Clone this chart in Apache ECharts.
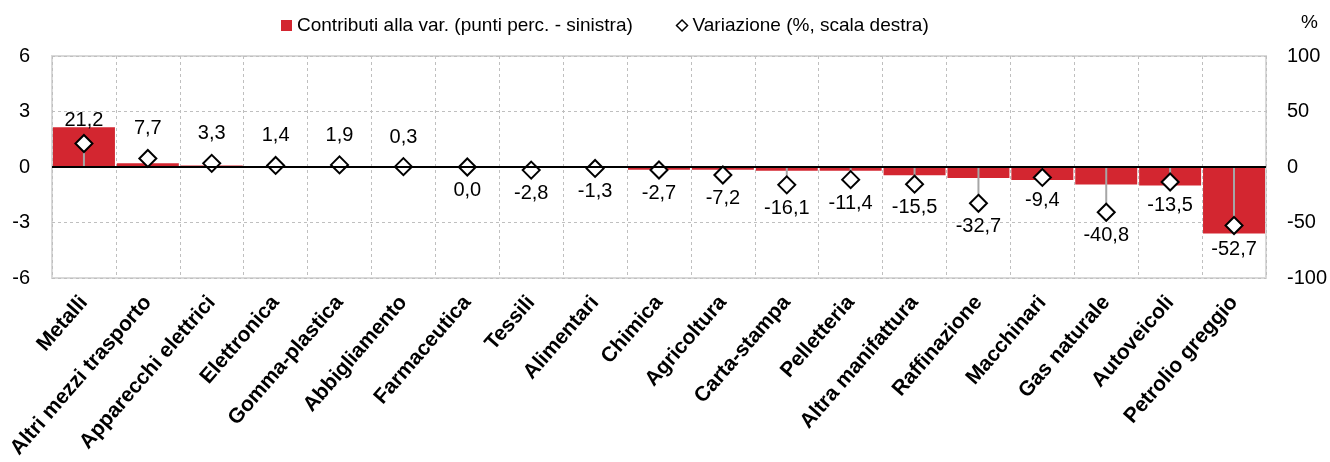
<!DOCTYPE html>
<html>
<head>
<meta charset="utf-8">
<script src="https://cdn.jsdelivr.net/npm/echarts@6/dist/echarts.min.js"></script>
<style>
  html, body { margin: 0; padding: 0; background: #fff; }
  #chart { width: 1330px; height: 462px; }
</style>
</head>
<body>
<div id="chart"></div>
<script>
// categories and values
const categories = ['Metalli', 'Altri mezzi trasporto', 'Apparecchi elettrici', 'Elettronica', 'Gomma-plastica',
  'Abbigliamento', 'Farmaceutica', 'Tessili', 'Alimentari', 'Chimica', 'Agricoltura', 'Carta-stampa',
  'Pelletteria', 'Altra manifattura', 'Raffinazione', 'Macchinari', 'Gas naturale', 'Autoveicoli', 'Petrolio greggio'];
// contributions, percentage points (left axis)
const contributi = [2.15, 0.2, 0.08, 0.02, 0.02, 0.0, 0.0, -0.01, 0.0, -0.15, -0.15, -0.2, -0.2, -0.45, -0.6, -0.7, -0.95, -1.0, -3.6];
// change, % (right axis)
const variazione = [21.2, 7.7, 3.3, 1.4, 1.9, 0.3, 0.0, -2.8, -1.3, -2.7, -7.2, -16.1, -11.4, -15.5, -32.7, -9.4, -40.8, -13.5, -52.7];
const leftTicks = [-6, -3, 0, 3, 6];
const rightTicks = [-100, -50, 0, 50, 100];

const RED = '#d32630';
const FONT = "'Liberation Sans', Arial, sans-serif";
const fmt = (v) => v.toFixed(1).replace('.', ',');

const chart = echarts.init(document.getElementById('chart'), null, { renderer: 'canvas' });

chart.setOption({
  animation: false,
  textStyle: { fontFamily: FONT, color: '#000' },
  legend: {
    top: 11,
    left: 276,
    itemGap: 43,
    itemWidth: 11,
    itemHeight: 11,
    textStyle: { fontFamily: FONT, fontSize: 19, color: '#000' },
    data: [
      { name: 'Contributi alla var. (punti perc. - sinistra)', icon: 'rect', itemStyle: { color: RED } },
      { name: 'Variazione (%, scala destra)', icon: 'diamond', itemStyle: { color: '#fff', borderColor: '#000', borderWidth: 1.5 } },
    ],
  },
  graphic: [{
    type: 'text', right: 12, top: 13,
    style: { text: '%', font: '19px ' + FONT, fill: '#000' },
  }],
  grid: {
    left: 52, right: 61, top: 56, height: 222,
    show: true, borderColor: '#d9d9d9', borderWidth: 2,
  },
  xAxis: {
    type: 'category',
    data: categories,
    axisLine: { show: false },
    axisTick: { show: false },
    splitLine: { show: true, interval: 0, lineStyle: { color: '#bfbfbf', type: [3, 3], width: 1 } },
    axisLabel: {
      interval: 0, rotate: 49, margin: 21,
      fontFamily: FONT, fontSize: 21, fontWeight: 'bold', color: '#000',
    },
  },
  yAxis: [{
    type: 'value',
    min: leftTicks[0], max: leftTicks[leftTicks.length - 1], interval: 3,
    axisLine: { show: false },
    axisTick: { show: false },
    splitLine: { lineStyle: { color: '#bfbfbf', type: [3, 3] } },
    axisLabel: { margin: 22, fontFamily: FONT, fontSize: 20, color: '#000' },
  }, {
    type: 'value',
    min: rightTicks[0], max: rightTicks[rightTicks.length - 1], interval: 50,
    axisLine: { show: false },
    axisTick: { show: false },
    splitLine: { show: false },
    axisLabel: { margin: 21, fontFamily: FONT, fontSize: 20, color: '#000' },
  }],
  series: [{
    name: 'Contributi alla var. (punti perc. - sinistra)',
    type: 'bar',
    yAxisIndex: 0,
    data: contributi,
    barCategoryGap: '3%',
    itemStyle: { color: RED },
    z: 2,
    markLine: {
      silent: true,
      symbol: 'none',
      label: { show: false },
      lineStyle: { color: '#000', type: 'solid', width: 2 },
      data: [{ yAxis: 0 }],
    },
  }, {
    name: 'drop',
    type: 'custom',
    yAxisIndex: 1,
    data: variazione,
    z: 3,
    renderItem(params, api) {
      const p0 = api.coord([params.dataIndex, 0]);
      const p1 = api.coord([params.dataIndex, api.value(1)]);
      return {
        type: 'line',
        shape: { x1: p0[0], y1: p0[1], x2: p1[0], y2: p1[1] },
        style: { stroke: '#a6a6a6', lineWidth: 2 },
      };
    },
    encode: { x: 0, y: 1 },
  }, {
    name: 'Variazione (%, scala destra)',
    type: 'scatter',
    yAxisIndex: 1,
    symbol: 'diamond',
    symbolSize: 17,
    z: 4,
    itemStyle: { color: '#fff', borderColor: '#000', borderWidth: 2, opacity: 1 },
    data: variazione.map((v) => ({
      value: v,
      label: { position: v > 0 ? 'top' : 'bottom', distance: v > 15 ? 3 : (v > 0 ? 10 : 4) },
    })),
    label: {
      show: true,
      formatter: (p) => fmt(p.value),
      fontFamily: FONT, fontSize: 20, color: '#000',
    },
  }],
});
</script>
</body>
</html>
